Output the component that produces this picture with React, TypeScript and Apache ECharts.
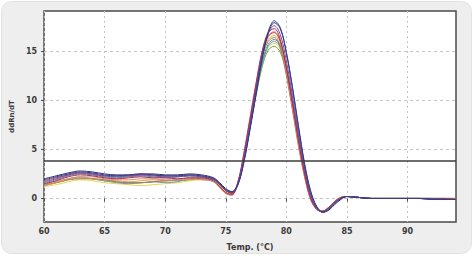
import React, { useEffect, useRef } from "react";
import * as echarts from "echarts";

const temps = [60, 61, 62, 63, 64, 65, 66, 67, 68, 69, 70, 71, 72, 73, 74, 74.5, 75, 75.5, 76, 76.5, 77, 77.5, 78, 78.5, 79, 79.5, 80, 80.5, 81, 81.5, 82, 82.5, 83, 83.5, 84, 84.5, 85, 86, 87, 88, 89, 90, 91, 92, 93, 94];

const xTicks = [60, 65, 70, 75, 80, 85, 90];
const yTicks = [0, 5, 10, 15];
const threshold = 3.8;

const wellA = [1.9, 2.2, 2.5, 2.7, 2.6, 2.4, 2.3, 2.4, 2.5, 2.4, 2.3, 2.3, 2.4, 2.3, 2.0, 1.5, 0.9, 0.6, 1.4, 3.8, 7.2, 10.9, 14.5, 17.0, 18.1, 17.4, 14.8, 11.2, 7.2, 3.4, 0.6, -0.9, -1.4, -1.1, -0.5, 0.0, 0.2, 0.1, 0.0, 0.0, 0.0, 0.0, 0.0, -0.1, -0.1, -0.1];
const wellB = [1.7, 2.0, 2.4, 2.6, 2.5, 2.3, 2.2, 2.3, 2.4, 2.3, 2.2, 2.2, 2.3, 2.2, 1.9, 1.4, 0.8, 0.6, 1.6, 4.2, 7.6, 11.2, 14.6, 16.8, 17.6, 16.7, 14.0, 10.5, 6.6, 3.0, 0.3, -1.0, -1.4, -1.0, -0.4, 0.0, 0.2, 0.1, 0.0, 0.0, 0.0, 0.0, 0.0, 0.0, -0.1, -0.1];
const wellC = [1.5, 1.8, 2.2, 2.4, 2.3, 2.1, 2.0, 2.1, 2.2, 2.1, 2.1, 2.0, 2.1, 2.1, 1.8, 1.2, 0.6, 0.4, 1.7, 4.6, 8.1, 11.7, 15.0, 16.9, 17.3, 16.2, 13.3, 9.7, 5.9, 2.5, 0.0, -1.1, -1.3, -0.9, -0.3, 0.1, 0.2, 0.1, 0.0, 0.0, 0.0, 0.0, 0.0, 0.0, 0.0, -0.1];
const wellD = [1.3, 1.6, 2.0, 2.2, 2.2, 2.0, 1.9, 1.9, 2.0, 2.0, 1.9, 1.9, 2.0, 1.9, 1.7, 1.1, 0.5, 0.3, 1.6, 4.7, 8.3, 11.8, 14.9, 16.6, 17.0, 15.9, 13.0, 9.4, 5.6, 2.3, -0.1, -1.1, -1.3, -0.9, -0.3, 0.1, 0.2, 0.1, 0.0, 0.0, 0.0, 0.0, 0.0, 0.0, 0.0, 0.0];
const wellE = [1.4, 1.7, 2.0, 2.1, 2.0, 1.9, 1.8, 1.7, 1.8, 1.9, 1.8, 1.9, 2.0, 2.0, 1.8, 1.2, 0.6, 0.4, 1.5, 4.3, 7.8, 11.3, 14.4, 16.2, 16.6, 15.6, 12.8, 9.3, 5.6, 2.4, 0.0, -1.1, -1.3, -0.9, -0.3, 0.1, 0.2, 0.1, 0.0, 0.0, 0.0, 0.0, 0.0, 0.0, 0.0, 0.0];
const wellF = [1.2, 1.4, 1.7, 1.9, 1.8, 1.6, 1.5, 1.4, 1.3, 1.4, 1.5, 1.6, 1.8, 1.9, 1.8, 1.3, 0.7, 0.5, 1.4, 4.0, 7.3, 10.6, 13.6, 15.4, 15.8, 15.2, 12.9, 9.6, 5.9, 2.6, 0.1, -1.0, -1.3, -0.9, -0.3, 0.1, 0.2, 0.1, 0.0, 0.0, 0.0, 0.0, 0.0, 0.0, 0.0, 0.0];
const wellG = [1.3, 1.6, 1.9, 2.1, 2.0, 1.8, 1.7, 1.6, 1.6, 1.7, 1.8, 1.8, 1.9, 2.0, 1.9, 1.4, 0.8, 0.6, 1.5, 4.1, 7.3, 10.5, 13.4, 15.1, 15.5, 14.9, 12.8, 9.7, 6.1, 2.8, 0.2, -1.0, -1.3, -0.9, -0.3, 0.1, 0.2, 0.1, 0.0, 0.0, 0.0, 0.0, 0.0, 0.0, 0.0, 0.0];
const wellH = [1.6, 1.9, 2.3, 2.5, 2.4, 2.2, 2.1, 2.2, 2.3, 2.2, 2.1, 2.2, 2.3, 2.2, 2.0, 1.5, 0.9, 0.7, 1.5, 4.0, 7.3, 10.8, 13.9, 15.7, 16.2, 15.6, 13.4, 10.1, 6.4, 3.0, 0.4, -0.9, -1.4, -1.1, -0.5, 0.0, 0.2, 0.1, 0.0, 0.0, 0.0, 0.0, 0.0, -0.1, -0.1, -0.1];
const wellI = [1.4, 1.6, 1.9, 2.0, 2.0, 1.9, 1.7, 1.6, 1.6, 1.7, 1.8, 1.9, 2.1, 2.0, 1.7, 1.1, 0.5, 0.4, 1.6, 4.5, 8.0, 11.4, 14.4, 16.0, 16.4, 15.3, 12.5, 9.0, 5.3, 2.2, -0.1, -1.1, -1.3, -0.9, -0.3, 0.1, 0.2, 0.1, 0.0, 0.0, 0.0, 0.0, 0.0, 0.0, 0.0, 0.0];
const wellJ = [1.8, 2.1, 2.4, 2.6, 2.5, 2.3, 2.3, 2.3, 2.4, 2.4, 2.3, 2.3, 2.4, 2.3, 2.0, 1.4, 0.8, 0.5, 1.5, 4.3, 7.8, 11.3, 14.6, 16.5, 16.9, 16.0, 13.3, 9.8, 6.0, 2.7, 0.2, -1.0, -1.4, -1.0, -0.4, 0.0, 0.2, 0.1, 0.0, 0.0, 0.0, 0.0, 0.0, 0.0, -0.1, -0.1];
const wellK = [2.0, 2.3, 2.6, 2.8, 2.7, 2.5, 2.4, 2.4, 2.5, 2.5, 2.4, 2.4, 2.5, 2.4, 2.1, 1.6, 1.0, 0.7, 1.4, 3.7, 7.0, 10.6, 14.2, 16.8, 17.9, 17.3, 14.9, 11.4, 7.4, 3.6, 0.8, -0.8, -1.4, -1.2, -0.6, -0.1, 0.2, 0.1, 0.0, 0.0, 0.0, 0.0, 0.0, -0.1, -0.1, -0.1];
const wellL = [1.5, 1.7, 2.0, 2.2, 2.0, 1.8, 1.6, 1.5, 1.6, 1.7, 1.6, 1.7, 2.0, 2.1, 1.9, 1.4, 0.8, 0.6, 1.5, 4.0, 7.3, 10.7, 13.7, 15.5, 16.0, 15.4, 13.1, 9.9, 6.2, 2.9, 0.3, -0.9, -1.3, -1.0, -0.4, 0.0, 0.2, 0.1, 0.0, 0.0, 0.0, 0.0, 0.0, 0.0, 0.0, 0.0];

const wells = [wellF, wellG, wellL, wellE, wellI, wellH, wellD, wellJ, wellC, wellB, wellK, wellA];
const wellColors = ["#e6d84a", "#5da83e", "#7f93b8", "#e9a444", "#a3805c", "#4a8fa0", "#e08a80", "#cf3d3d", "#a8304e", "#7c4a9e", "#23307a", "#3a3f95"];

export default function App() {
  const ref = useRef<HTMLDivElement>(null);
  useEffect(() => {
    document.body.style.margin = "0";
    const chart = echarts.init(ref.current!, null, { renderer: "svg" });
    const labelStyle = {
      color: "#3a3a3a",
      fontFamily: "DejaVu Sans",
      fontWeight: "bold" as const,
      fontSize: 8,
    };
    const series: any[] = wells.map((w, i) => ({
      type: "line",
      data: temps.map((t, j) => [t, w[j]]),
      smooth: 0.35,
      showSymbol: false,
      lineStyle: { color: wellColors[i], width: 1 },
      z: 3,
    }));
    series[0].markLine = {
      silent: true,
      symbol: "none",
      label: { show: false },
      lineStyle: { color: "#3c3c3c", width: 1.5, type: "solid" },
      data: [{ yAxis: threshold }],
      z: 4,
    };
    chart.setOption({
      animation: false,
      graphic: [
        {
          type: "rect",
          z: -10,
          silent: true,
          shape: { x: 1.5, y: 1.5, width: 470, height: 252, r: 10 },
          style: { fill: "#eeeeee", stroke: "#e2e2e2", lineWidth: 1 },
        },
      ],
      grid: {
        left: 39,
        right: 18,
        top: 11,
        bottom: 33,
        show: true,
        backgroundColor: "#ffffff",
        borderColor: "#4a4a4a",
        borderWidth: 1.5,
      },
      xAxis: {
        type: "value",
        min: 60,
        max: 94,
        name: "Temp. (°C)",
        nameLocation: "middle",
        nameGap: 21,
        nameTextStyle: { ...labelStyle },
        axisLine: { show: false },
        axisTick: { show: true, length: 3, lineStyle: { color: "#4a4a4a" }, customValues: xTicks },
        axisLabel: { ...labelStyle, margin: 5, customValues: xTicks },
        splitLine: { show: true, lineStyle: { color: "#c4c4c4", type: [2, 3], width: 1 } },
      },
      yAxis: {
        type: "value",
        min: -2.4,
        max: 19.1,
        name: "ddRn/dT",
        nameLocation: "middle",
        nameGap: 15,
        nameRotate: 90,
        nameTextStyle: { ...labelStyle, fontSize: 7 },
        axisLine: { show: false },
        axisTick: { show: true, length: 3, lineStyle: { color: "#4a4a4a" }, customValues: yTicks },
        axisLabel: { ...labelStyle, margin: 7, customValues: yTicks },
        splitLine: { show: true, lineStyle: { color: "#c4c4c4", type: [3, 3], width: 1 } },
      },
      series,
    });
    return () => chart.dispose();
  }, []);
  return (
    <div style={{ position: "fixed", left: 0, top: 0, width: 474, height: 256, background: "#ffffff" }}>
      <div ref={ref} style={{ width: 474, height: 256 }} />
    </div>
  );
}
